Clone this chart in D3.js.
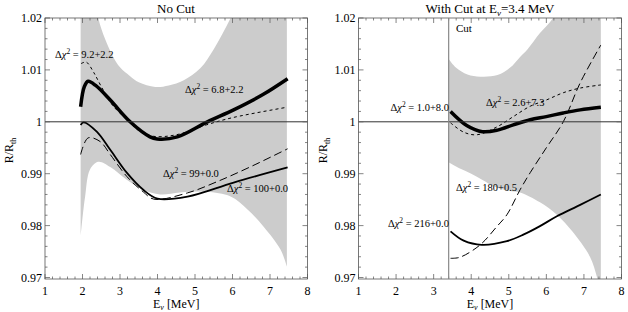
<!DOCTYPE html>
<html>
<head>
<meta charset="utf-8">
<script src="https://cdn.jsdelivr.net/npm/d3@7"></script>
<style>
  body { margin: 0; background: #fff; }
  svg text { font-family: "Liberation Serif", "DejaVu Serif", serif; }
</style>
</head>
<body>
<div id="chart"></div>
<script>
// ---- data ----
const xTicks = [1, 2, 3, 4, 5, 6, 7, 8];
const yTicks = [0.97, 0.98, 0.99, 1, 1.01, 1.02];
const yTickLabels = ["0.97", "0.98", "0.99", "1", "1.01", "1.02"];

// No Cut panel
const bandUpperE1 = [1.95, 2.2, 2.42, 2.6, 2.82, 3.0, 3.27, 3.5, 3.94, 4.3, 4.7, 5.14, 5.5, 5.95, 6.4, 7.45];
const bandUpperV1 = [1.04, 1.03, 1.0200, 1.0160, 1.0125, 1.0105, 1.0088, 1.0076, 1.0067, 1.0070, 1.0080, 1.0103, 1.0140, 1.0200, 1.027, 1.045];
const bandLowerE1 = [1.95, 2.0, 2.07, 2.2, 2.42, 2.74, 3.19, 3.62, 4.07, 4.6, 5.3, 5.95, 6.4, 6.83, 7.28, 7.45];
const bandLowerV1 = [0.978, 0.9815, 0.9856, 0.9908, 0.9923, 0.9913, 0.9888, 0.9869, 0.9860, 0.9864, 0.9865, 0.9856, 0.9831, 0.9798, 0.9754, 0.9721];

const thickE1 = [1.95, 2.05, 2.15, 2.35, 2.74, 3.27, 3.8, 3.99, 4.53, 5.33, 6.03, 6.8, 7.47];
const thickV1 = [1.0029, 1.0068, 1.0078, 1.0070, 1.0042, 1.0000, 0.9971, 0.9967, 0.9971, 1.0000, 1.0023, 1.0052, 1.0083];
const shortE1 = [1.96, 2.1, 2.3, 2.5, 2.8, 3.2, 3.5, 3.9, 4.5, 5.3, 6.0, 7.45];
const shortV1 = [1.0112, 1.0115, 1.0095, 1.0068, 1.0032, 1.0003, 0.9983, 0.9972, 0.9975, 0.9994, 1.0008, 1.0028];
const thinE1 = [1.95, 2.03, 2.38, 2.74, 3.18, 3.62, 4.0, 4.8, 6.03, 7.47];
const thinV1 = [0.9994, 0.9999, 0.9981, 0.9946, 0.9902, 0.9869, 0.9852, 0.9856, 0.9883, 0.9912];
const longE1 = [1.95, 2.15, 2.47, 2.74, 3.19, 3.62, 3.9, 4.8, 5.6, 6.5, 7.47];
const longV1 = [0.9937, 0.9969, 0.9962, 0.9937, 0.9894, 0.9865, 0.9851, 0.9863, 0.9885, 0.9914, 0.9948];

// With Cut panel
const cutE = 3.4;
const bandUpperE2 = [3.4, 3.6, 3.9, 4.24, 4.7, 5.03, 5.3, 5.5, 5.83, 6.18, 6.6, 7.45];
const bandUpperV2 = [1.0121, 1.0104, 1.0091, 1.0087, 1.0090, 1.0104, 1.0125, 1.0140, 1.0171, 1.0200, 1.026, 1.04];
const bandLowerE2 = [3.4, 3.7, 4.0, 4.3, 4.6, 5.0, 5.3, 5.83, 6.28, 6.7, 7.16, 7.35, 7.45];
const bandLowerV2 = [0.9922, 0.9910, 0.9900, 0.9888, 0.9876, 0.9867, 0.9864, 0.9845, 0.9821, 0.9788, 0.9740, 0.9700, 0.9670];

const thickE2 = [3.45, 3.88, 4.3, 4.7, 5.12, 5.57, 6.0, 6.45, 6.9, 7.45];
const thickV2 = [1.0020, 0.9993, 0.9981, 0.9984, 0.9994, 1.0004, 1.0010, 1.0017, 1.0023, 1.0028];
const shortE2 = [3.45, 3.8, 4.15, 4.68, 5.12, 5.57, 6.0, 6.45, 6.9, 7.45];
const shortV2 = [0.9998, 0.9980, 0.9975, 0.9990, 1.0010, 1.0030, 1.0042, 1.0056, 1.0065, 1.0071];
const thinE2 = [3.45, 3.8, 4.28, 4.95, 5.4, 5.83, 6.28, 6.9, 7.45];
const thinV2 = [0.9789, 0.9771, 0.9763, 0.9770, 0.9783, 0.9799, 0.9818, 0.9840, 0.9860];
const longE2 = [3.45, 3.7, 4.24, 4.68, 4.95, 5.3, 5.57, 6.0, 6.45, 6.9, 7.45];
const longV2 = [0.9737, 0.9739, 0.9763, 0.9798, 0.9821, 0.9869, 0.9902, 0.9950, 1.0000, 1.0075, 1.0148];

// ---- drawing ----
const W = 628, H = 312;
const svg = d3.select("#chart").append("svg")
  .attr("width", W).attr("height", H);

function zip(es, vs) { return es.map((e, i) => ({ e: e, v: vs[i] })); }

function chi(g, x, y, anchor, txt) {
  const t = g.append("text").attr("x", x).attr("y", y)
    .attr("text-anchor", anchor).attr("font-size", 10.5);
  t.append("tspan").text("Δ");
  t.append("tspan").attr("font-style", "italic").text("χ");
  t.append("tspan").attr("dy", -4).attr("font-size", 7.5).text("2");
  t.append("tspan").attr("dy", 4).text(" = " + txt);
}

function panel(id, left, right) {
  const top = 18, bottom = 279;
  const x = d3.scaleLinear().domain([1, 8]).range([left, right]);
  const y = d3.scaleLinear().domain([0.97, 1.02]).range([277.5, 18]);
  const g = svg.append("g");

  g.append("clipPath").attr("id", "clip" + id)
    .append("rect").attr("x", left).attr("y", top)
    .attr("width", right - left).attr("height", bottom - top);

  const plot = g.append("g").attr("clip-path", `url(#clip${id})`);
  return { g, plot, x, y, top, bottom, left, right };
}

function band(p, ue, uv, le, lv) {
  const up = zip(ue, uv), lo = zip(le, lv);
  const edge = d3.line().x(d => p.x(d.e)).y(d => p.y(d.v)).curve(d3.curveCatmullRom);
  const pathUp = edge(up);
  const pathLo = edge(lo.slice().reverse());
  p.plot.append("path")
    .attr("d", pathUp + "L" + pathLo.slice(1) + "Z")
    .attr("fill", "#cccccc").attr("stroke", "none");
}

function curve(p, es, vs, width, dash) {
  const line = d3.line().x(d => p.x(d.e)).y(d => p.y(d.v)).curve(d3.curveCatmullRom);
  p.plot.append("path").datum(zip(es, vs)).attr("d", line)
    .attr("fill", "none").attr("stroke", "#000")
    .attr("stroke-width", width)
    .attr("stroke-dasharray", dash || null);
}

function frame(p) {
  const { g, x, y, top, bottom, left, right } = p;
  // horizontal line at 1
  g.append("line").attr("x1", left).attr("x2", right)
    .attr("y1", y(1)).attr("y2", y(1))
    .attr("stroke", "#333").attr("stroke-width", 1);

  const minorX = d3.range(1, 8.001, 0.2);
  const minorY = d3.range(0.97, 1.0201, 0.002);
  const tg = g.append("g").attr("stroke", "#666").attr("stroke-width", 0.8);
  minorX.forEach(v => {
    const major = Math.abs(v - Math.round(v)) < 1e-6;
    const len = major ? 5 : 2.5;
    tg.append("line").attr("x1", x(v)).attr("x2", x(v)).attr("y1", bottom).attr("y2", bottom - len);
    tg.append("line").attr("x1", x(v)).attr("x2", x(v)).attr("y1", top).attr("y2", top + len);
  });
  minorY.forEach(v => {
    const major = Math.abs(v * 100 - Math.round(v * 100)) < 1e-6;
    const len = major ? 5 : 2.5;
    tg.append("line").attr("y1", y(v)).attr("y2", y(v)).attr("x1", left).attr("x2", left + len);
    tg.append("line").attr("y1", y(v)).attr("y2", y(v)).attr("x1", right).attr("x2", right - len);
  });

  g.append("rect").attr("x", left).attr("y", top)
    .attr("width", right - left).attr("height", bottom - top)
    .attr("fill", "none").attr("stroke", "#555").attr("stroke-width", 0.8);

  xTicks.forEach(v => {
    g.append("text").attr("x", x(v)).attr("y", bottom + 16)
      .attr("text-anchor", "middle").attr("font-size", 12).text(v);
  });
  yTicks.forEach((v, i) => {
    g.append("text").attr("x", left - 3).attr("y", y(v) + 4)
      .attr("text-anchor", "end").attr("font-size", 12).text(yTickLabels[i]);
  });

  // axis labels
  const xl = g.append("text").attr("x", (left + right) / 2).attr("y", 308)
    .attr("text-anchor", "middle").attr("font-size", 12);
  xl.append("tspan").text("E");
  xl.append("tspan").attr("dy", 2).attr("font-size", 8).attr("font-style", "italic").text("ν");
  xl.append("tspan").attr("dy", -2).text("  [MeV]");

  const yl = g.append("text")
    .attr("transform", `translate(${left - 32},${(top + bottom) / 2 + 2}) rotate(-90)`)
    .attr("text-anchor", "middle").attr("font-size", 12);
  yl.append("tspan").text("R/R");
  yl.append("tspan").attr("dy", 3).attr("font-size", 8).text("th");
}

// Left: No Cut
const p1 = panel(1, 45, 307.5);
band(p1, bandUpperE1, bandUpperV1, bandLowerE1, bandLowerV1);
frame(p1);
curve(p1, shortE1, shortV1, 1, "3,3");
curve(p1, longE1, longV1, 1, "8,4");
curve(p1, thinE1, thinV1, 1.8);
curve(p1, thickE1, thickV1, 3.5);
svg.append("text").attr("x", 176).attr("y", 13).attr("text-anchor", "middle")
  .attr("font-size", 13).text("No Cut");
chi(svg, 55, 58, "start", "9.2+2.2");
chi(svg, 185, 93, "start", "6.8+2.2");
chi(svg, 163, 177, "start", "99+0.0");
chi(svg, 227, 192, "start", "100+0.0");

// Right: With Cut
const p2 = panel(2, 358.5, 621.5);
band(p2, bandUpperE2, bandUpperV2, bandLowerE2, bandLowerV2);
frame(p2);
p2.g.append("line").attr("x1", p2.x(cutE)).attr("x2", p2.x(cutE))
  .attr("y1", p2.top).attr("y2", p2.bottom)
  .attr("stroke", "#888").attr("stroke-width", 1.2);
curve(p2, shortE2, shortV2, 1, "3,3");
curve(p2, longE2, longV2, 1, "8,4");
curve(p2, thinE2, thinV2, 1.8);
curve(p2, thickE2, thickV2, 3.5);
const t2 = svg.append("text").attr("x", 490).attr("y", 13).attr("text-anchor", "middle")
  .attr("font-size", 13);
t2.append("tspan").text("With Cut at E");
t2.append("tspan").attr("dy", 3).attr("font-size", 9).attr("font-style", "italic").text("ν");
t2.append("tspan").attr("dy", -3).text("=3.4 MeV");
svg.append("text").attr("x", 456).attr("y", 32).attr("font-size", 11).text("Cut");
chi(svg, 449, 111, "end", "1.0+8.0");
chi(svg, 486, 106, "start", "2.6+7.3");
chi(svg, 456, 191, "start", "180+0.5");
chi(svg, 449, 227, "end", "216+0.0");
</script>
</body>
</html>
